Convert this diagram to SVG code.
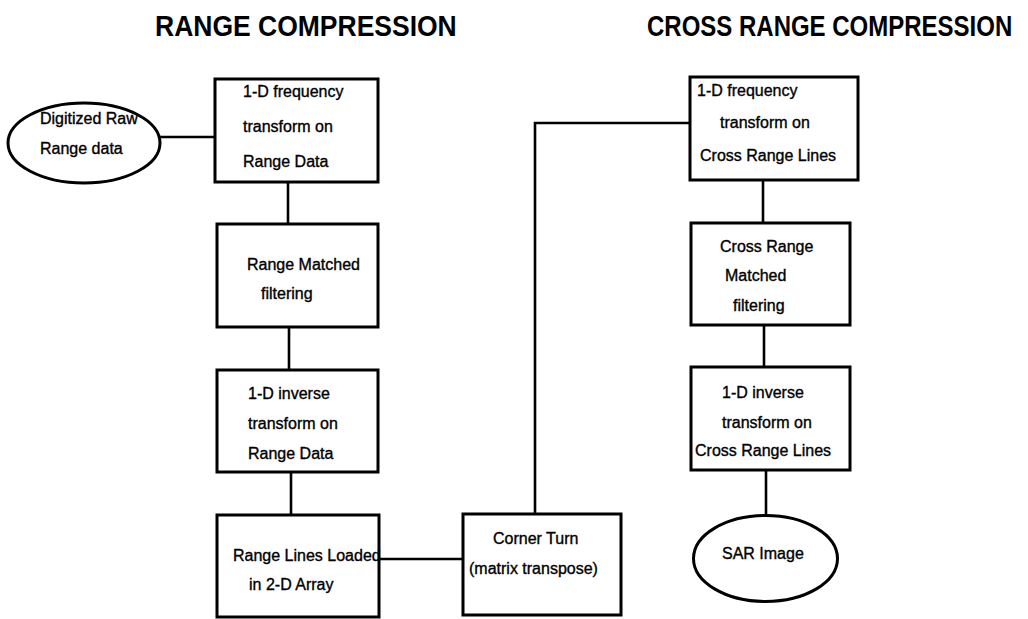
<svg xmlns="http://www.w3.org/2000/svg" width="1028" height="619" viewBox="0 0 1028 619">
<style>
.title{font-family:"Liberation Sans",Arial,sans-serif;font-weight:bold;fill:#000}
.t{font-family:"Liberation Sans",Arial,sans-serif;font-size:16px;fill:#000;stroke:#000;stroke-width:0.35}
.box{fill:#fff;stroke:#000;stroke-width:3}
.conn{fill:none;stroke:#000;stroke-width:2.6}
</style>
<rect width="1028" height="619" fill="#fff"/>
<text class="title" font-size="26.5" transform="translate(155,36) scale(1,1.13)">RANGE COMPRESSION</text>
<text class="title" font-size="24" transform="translate(647,36) scale(1,1.25)">CROSS RANGE COMPRESSION</text>
<g id="connectors">
<line class="conn" x1="159" y1="137" x2="215" y2="137"/>
<line class="conn" x1="288" y1="182" x2="288" y2="224"/>
<line class="conn" x1="289" y1="327" x2="289" y2="370"/>
<line class="conn" x1="291" y1="472" x2="291" y2="515"/>
<line class="conn" x1="379" y1="559" x2="463" y2="559"/>
<polyline class="conn" points="535,514 535,123 690,123"/>
<line class="conn" x1="763" y1="180" x2="763" y2="223"/>
<line class="conn" x1="764" y1="325" x2="764" y2="367"/>
<line class="conn" x1="766" y1="470" x2="766" y2="515"/>
</g>
<g id="raw">
<ellipse class="box" cx="84" cy="143" rx="76" ry="40"/>
<text class="t" x="40" y="124">Digitized Raw</text>
<text class="t" x="40" y="154">Range data</text>
</g>
<g id="freq1">
<rect class="box" x="215" y="79" width="163" height="103"/>
<text class="t" x="243" y="97">1-D frequency</text>
<text class="t" x="243" y="132">transform on</text>
<text class="t" x="243" y="167">Range Data</text>
</g>
<g id="match1">
<rect class="box" x="217" y="224" width="161" height="103"/>
<text class="t" x="247" y="270">Range Matched</text>
<text class="t" x="261" y="299">filtering</text>
</g>
<g id="inv1">
<rect class="box" x="217" y="370" width="161" height="102"/>
<text class="t" x="248" y="399">1-D inverse</text>
<text class="t" x="248" y="429">transform on</text>
<text class="t" x="248" y="459">Range Data</text>
</g>
<g id="load">
<rect class="box" x="217" y="515" width="162" height="102"/>
<text class="t" x="233" y="561">Range Lines Loaded</text>
<text class="t" x="249" y="590">in 2-D Array</text>
</g>
<g id="corner">
<rect class="box" x="463" y="514" width="158" height="101"/>
<text class="t" x="493" y="544">Corner Turn</text>
<text class="t" x="469" y="574">(matrix transpose)</text>
</g>
<g id="freq2">
<rect class="box" x="690" y="77" width="168" height="103"/>
<text class="t" x="697" y="96">1-D frequency</text>
<text class="t" x="720" y="128">transform on</text>
<text class="t" x="700" y="161">Cross Range Lines</text>
</g>
<g id="match2">
<rect class="box" x="691" y="223" width="159" height="102"/>
<text class="t" x="720" y="252">Cross Range</text>
<text class="t" x="725" y="281">Matched</text>
<text class="t" x="733" y="311">filtering</text>
</g>
<g id="inv2">
<rect class="box" x="691" y="367" width="159" height="103"/>
<text class="t" x="722" y="398">1-D inverse</text>
<text class="t" x="722" y="428">transform on</text>
<text class="t" x="695" y="456">Cross Range Lines</text>
</g>
<g id="sar">
<ellipse class="box" cx="765.5" cy="558.5" rx="72" ry="43"/>
<text class="t" x="722" y="559">SAR Image</text>
</g>
</svg>
